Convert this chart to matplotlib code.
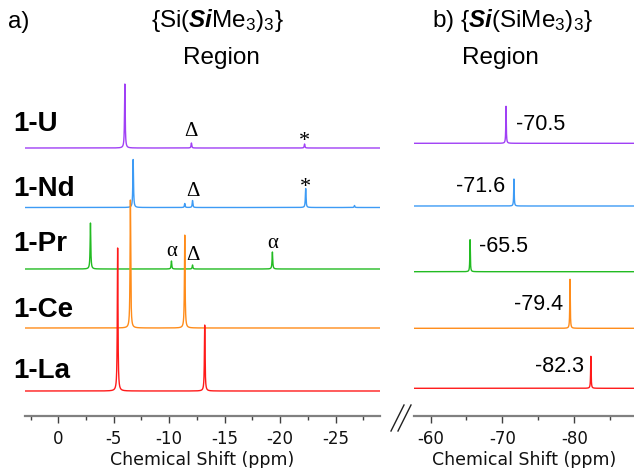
import numpy as np
import matplotlib
matplotlib.use("Agg")
import matplotlib.pyplot as plt
from matplotlib.lines import Line2D

plt.rcParams['axes.unicode_minus'] = False
plt.rcParams['mathtext.fontset'] = 'custom'
plt.rcParams['mathtext.rm'] = 'Liberation Sans'
plt.rcParams['mathtext.it'] = 'Liberation Sans:italic'
plt.rcParams['mathtext.bf'] = 'Liberation Sans:bold'
try:
    plt.rcParams['mathtext.bfit'] = 'Liberation Sans:italic:bold'
    BFIT = r'\mathbfit'
except KeyError:
    BFIT = r'\mathbf'

# ---------------- data ----------------
compounds = ['1-U', '1-Nd', '1-Pr', '1-Ce', '1-La']
colors = ['#A040F5', '#3D9BF5', '#22BB22', '#FF8C1A', '#FF1A1A']

# panel a: {Si(SiMe3)3} region  (peak ppm, relative height)
offsets_a = [268, 208.5, 147, 88, 25]
peaks_a_pos = [
    [-6.0, -12.0, -22.2],
    [-6.75, -11.4, -12.1, -22.3, -26.7],
    [-2.9, -10.2, -12.1, -19.3],
    [-6.5, -11.4],
    [-5.35, -13.2],
]
peaks_a_h = [
    [64, 5, 4],
    [48, 4, 7, 19, 2],
    [46, 8, 4, 17],
    [128, 93],
    [143, 66],
]

# panel b: {Si(SiMe3)3} central Si region
offsets_b = [272.7, 210, 144.3, 87.7, 27.7]
peaks_b_pos = [[-70.5], [-71.6], [-65.5], [-79.4], [-82.3]]
peaks_b_h = [[37], [27], [32], [49], [32]]
peak_b_labels = ['-70.5', '-71.6', '-65.5', '-79.4', '-82.3']

# annotation marks on panel a (symbol, ppm, height above axis)
marks_sym = ['Δ', '*', 'Δ', '*', 'α', 'Δ', 'α']
marks_x = [-12.0, -22.2, -12.1, -22.3, -10.2, -12.1, -19.3]
marks_y = [284, 274, 224, 229, 165, 161, 173]

xticks_a = [0, -5, -10, -15, -20, -25]
xticks_b = [-60, -70, -80]

# ---------------- figure ----------------
W, H = 634, 468
fig = plt.figure(figsize=(W / 100, H / 100), dpi=100)

def px2fig(x, y):
    return x / W, 1 - y / H

axis_y = 416
ax_a = fig.add_axes([25 / W, (H - axis_y) / H, (380 - 25) / W, axis_y / H])
ax_b = fig.add_axes([414 / W, (H - axis_y) / H, (634 - 414) / W, axis_y / H])


def lorentz_sum(x, pos, hts, w):
    y = np.zeros_like(x)
    for p, h in zip(pos, hts):
        y += h * (w / 2) ** 2 / ((x - p) ** 2 + (w / 2) ** 2)
    return y

xa = np.linspace(3, -29, 12000)
xb = np.linspace(-57.7, -88.3, 12000)
for i in range(5):
    ax_a.plot(xa, offsets_a[i] + lorentz_sum(xa, peaks_a_pos[i], peaks_a_h[i], 0.07),
              color=colors[i], lw=1.0)
    ax_b.plot(xb, offsets_b[i] + lorentz_sum(xb, peaks_b_pos[i], peaks_b_h[i], 0.08),
              color=colors[i], lw=1.0)

for ax, lim, ticks, minor in [(ax_a, (3, -29), xticks_a, np.arange(2.5, -29, -5)),
                               (ax_b, (-57.7, -88.3), xticks_b, [-65, -75, -85])]:
    ax.set_xlim(*lim)
    ax.set_ylim(0, axis_y)
    ax.set_xticks(ticks)
    ax.set_xticklabels([str(t) for t in ticks])
    ax.set_xticks(minor, minor=True)
    ax.set_yticks([])
    for s in ['left', 'right', 'top']:
        ax.spines[s].set_visible(False)
    ax.spines['bottom'].set_color('#808080')
    ax.spines['bottom'].set_linewidth(1.6)
    ax.tick_params(axis='x', which='major', length=5, width=1, color='#404040',
                   labelsize=12, pad=5, labelcolor='#111111')
    ax.tick_params(axis='x', which='minor', length=3, width=1, color='#404040')
    ax.set_xlabel('Chemical Shift (ppm)', fontsize=12.5, labelpad=2, color='#111111')
    ax.patch.set_alpha(0)

# panel a annotation marks
for s, x, y in zip(marks_sym, marks_x, marks_y):
    ax_a.text(x, y, s, fontsize=15 if s != '*' else 16, ha='center', va='center',
              family='Liberation Serif', color='black')

# panel b peak labels
lab_x = [-71.84, -70.35, -66.73, -78.38, -81.35]
lab_y = [291, 229.3, 169, 111, 49]
lab_ha = ['left', 'right', 'left', 'right', 'right']
for t, x, y, ha in zip(peak_b_labels, lab_x, lab_y, lab_ha):
    ax_b.text(x, y, t, fontsize=15.5, ha=ha, va='center', family='Liberation Sans')

# compound labels
lab_py = [124, 189, 244, 310, 371]
for name, py in zip(compounds, lab_py):
    fig.text(*px2fig(13, py), name, fontsize=20, fontweight='bold',
             family='Liberation Sans', ha='left', va='center')

# titles
fig.text(*px2fig(8, 22), 'a)', fontsize=17.5, family='Liberation Sans', ha='left', va='center')
fig.text(*px2fig(217, 20), r'{Si($' + BFIT + r'{Si}$Me$_3$)$_3$}', fontsize=17.5,
         family='Liberation Sans', ha='center', va='center')
fig.text(*px2fig(221, 58), 'Region', fontsize=17.5, family='Liberation Sans',
         ha='center', va='center')
fig.text(*px2fig(513, 20), r'b) {$' + BFIT + r'{Si}$(SiMe$_3$)$_3$}', fontsize=17.5,
         family='Liberation Sans', ha='center', va='center')
fig.text(*px2fig(500, 58), 'Region', fontsize=17.5, family='Liberation Sans',
         ha='center', va='center')

# axis break marks
for dx in (0, 7):
    (x0, y0), (x1, y1) = px2fig(391 + dx, 431), px2fig(404 + dx, 405)
    fig.add_artist(Line2D([x0, x1], [y0, y1], color='#222222', lw=1.0))

fig.savefig('out.png', dpi=100)
